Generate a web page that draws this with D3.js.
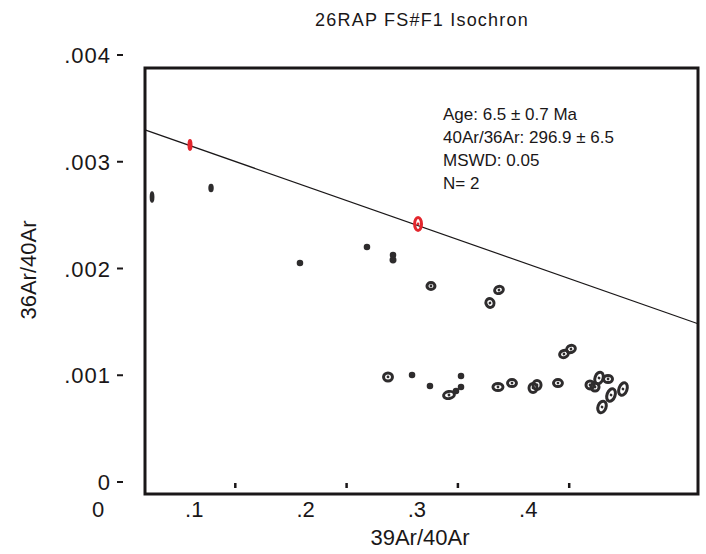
<!DOCTYPE html>
<html>
<head>
<meta charset="utf-8">
<script src="https://cdn.jsdelivr.net/npm/d3@7"></script>
<style>
  body { margin: 0; background: #fff; }
  text { font-family: "Liberation Sans", Arial, sans-serif; fill: #1a1718; }
</style>
</head>
<body>
<div id="chart"></div>
<script>
const title = "26RAP FS#F1 Isochron";
const xLabel = "39Ar/40Ar";
const yLabel = "36Ar/40Ar";
const xTicks = [0.1, 0.2, 0.3, 0.4];
const xTickLabels = [".1", ".2", ".3", ".4"];
const yTicks = [0, 0.001, 0.002, 0.003, 0.004];
const yTickLabels = ["0", ".001", ".002", ".003", ".004"];
const stats = ["Age: 6.5 \u00b1 0.7 Ma", "40Ar/36Ar: 296.9 \u00b1 6.5", "MSWD: 0.05", "N= 2"];

// isochron: 36/40 = 1/trapped - slope * 39/40
const trapped = 296.9;
const slope = 0.003657;

// steps used in the fit (red)
const usedX = [0.0593, 0.2642];
const usedY = [0.003157, 0.002417];
const usedEx = [0.0009, 0.0031];
const usedEy = [0.000042, 0.000061];

// other steps (black)
const stepX = [0.0252, 0.0782, 0.1581, 0.2183, 0.2417, 0.2417, 0.2758, 0.3288, 0.3369,
  0.2372, 0.2588, 0.2749, 0.2920, 0.2983, 0.3028, 0.3028, 0.3360, 0.3486, 0.3675, 0.3711,
  0.3899, 0.3953, 0.4016, 0.4187, 0.4232, 0.4268, 0.4349, 0.4295, 0.4376, 0.4483];
const stepY = [0.002670, 0.002754, 0.002051, 0.002201, 0.002126, 0.002080, 0.001836, 0.001677, 0.001799,
  0.000984, 0.001002, 0.000899, 0.000815, 0.000852, 0.000993, 0.000890, 0.000890, 0.000927, 0.000881, 0.000909,
  0.000927, 0.001199, 0.001246, 0.000909, 0.000890, 0.000974, 0.000965, 0.000703, 0.000815, 0.000871];
const stepEx = [0.0008, 0.0011, 0.0016, 0.0016, 0.0016, 0.0018, 0.0036, 0.0036, 0.0040,
  0.0040, 0.0016, 0.0016, 0.0049, 0.0016, 0.0016, 0.0016, 0.0045, 0.0040, 0.0036, 0.0036,
  0.0040, 0.0040, 0.0040, 0.0036, 0.0036, 0.0036, 0.0040, 0.0036, 0.0036, 0.0036];
const stepEy = [0.0000400, 0.0000260, 0.0000165, 0.0000165, 0.0000165, 0.0000187, 0.0000328, 0.0000422, 0.0000328,
  0.0000375, 0.0000165, 0.0000165, 0.0000328, 0.0000165, 0.0000165, 0.0000165, 0.0000328, 0.0000328, 0.0000422, 0.0000422,
  0.0000328, 0.0000328, 0.0000328, 0.0000375, 0.0000375, 0.0000562, 0.0000328, 0.0000562, 0.000061, 0.000061];
const stepRot = [0, 0, 0, 0, 0, 0, 0, -20, -20,
  0, 0, 0, -10, 0, 0, 0, 0, 0, 0, 0,
  0, -20, -20, 0, 0, 20, 0, 20, 20, 20];

const width = 706, height = 554;
const box = { left: 145, right: 698, top: 68, bottom: 494 };

const svg = d3.select("#chart").append("svg")
  .attr("width", width)
  .attr("height", height);

const x = d3.scaleLinear().domain([0, 0.5]).range([124, 680.5]);
const y = d3.scaleLinear().domain([0, 0.004]).range([482, 55]);

// title
svg.append("text")
  .attr("x", 422).attr("y", 26)
  .attr("text-anchor", "middle")
  .style("font-size", "18px")
  .style("letter-spacing", "1.2px")
  .text(title);

// frame
svg.append("rect")
  .attr("x", box.left).attr("y", box.top)
  .attr("width", box.right - box.left)
  .attr("height", box.bottom - box.top)
  .attr("fill", "none")
  .attr("stroke", "#1a1718")
  .attr("stroke-width", 3);

// y ticks: dash outside the frame
svg.selectAll("line.ytick").data(yTicks).enter().append("line")
  .attr("class", "ytick")
  .attr("x1", 117).attr("x2", 123)
  .attr("y1", d => y(d)).attr("y2", d => y(d))
  .attr("stroke", "#1a1718").attr("stroke-width", 2);

svg.selectAll("text.ylab").data(yTicks).enter().append("text")
  .attr("class", "ylab")
  .attr("x", 111)
  .attr("y", d => y(d) + 8)
  .attr("text-anchor", "end")
  .style("font-size", "22px")
  .style("letter-spacing", "1px")
  .text((d, i) => yTickLabels[i]);

// x ticks: short marks inside the frame bottom
svg.selectAll("line.xtick").data(xTicks).enter().append("line")
  .attr("class", "xtick")
  .attr("x1", d => x(d)).attr("x2", d => x(d))
  .attr("y1", 483).attr("y2", 488)
  .attr("stroke", "#1a1718").attr("stroke-width", 2.5);

// x tick labels sit left of their marks in the original figure
svg.selectAll("text.xlab").data(xTicks).enter().append("text")
  .attr("class", "xlab")
  .attr("x", d => x(d) - 41)
  .attr("y", 517)
  .attr("text-anchor", "middle")
  .style("font-size", "22px")
  .text((d, i) => xTickLabels[i]);

svg.append("text")
  .attr("x", 98).attr("y", 517)
  .attr("text-anchor", "middle")
  .style("font-size", "22px")
  .text("0");

// axis titles
svg.append("text")
  .attr("x", 420).attr("y", 545)
  .attr("text-anchor", "middle")
  .style("font-size", "22px")
  .text(xLabel);

svg.append("text")
  .attr("transform", "translate(36,270) rotate(-90)")
  .attr("text-anchor", "middle")
  .style("font-size", "22px")
  .text(yLabel);

// isochron line
const x0 = x.invert(box.left), x1 = x.invert(box.right);
const iso = v => 1 / trapped - slope * v;
svg.append("line")
  .attr("x1", x(x0)).attr("y1", y(iso(x0)))
  .attr("x2", x(x1)).attr("y2", y(iso(x1)))
  .attr("stroke", "#1a1718")
  .attr("stroke-width", 1.2);

// error ellipses
function drawEllipses(xs, ys, exs, eys, rots, color) {
  const g = svg.append("g");
  const pts = xs.map((v, i) => ({ x: v, y: ys[i], ex: exs[i], ey: eys[i], rot: rots ? rots[i] : 0 }));
  const item = g.selectAll("g").data(pts).enter().append("g")
    .attr("transform", d => `translate(${x(d.x)},${y(d.y)}) rotate(${d.rot})`);
  item.append("ellipse")
    .attr("rx", d => x(d.ex) - x(0))
    .attr("ry", d => y(0) - y(d.ey))
    .attr("fill", "none")
    .attr("stroke", color)
    .attr("stroke-width", 3);
  item.append("circle")
    .attr("r", 1.4)
    .attr("fill", color);
}

drawEllipses(stepX, stepY, stepEx, stepEy, stepRot, "#2e2c2d");
drawEllipses(usedX, usedY, usedEx, usedEy, null, "#e3262d");

// stats block
svg.append("g").selectAll("text").data(stats).enter().append("text")
  .attr("x", 443)
  .attr("y", (d, i) => 120 + i * 23)
  .style("font-size", "17px")
  .text(d => d);
</script>
</body>
</html>
